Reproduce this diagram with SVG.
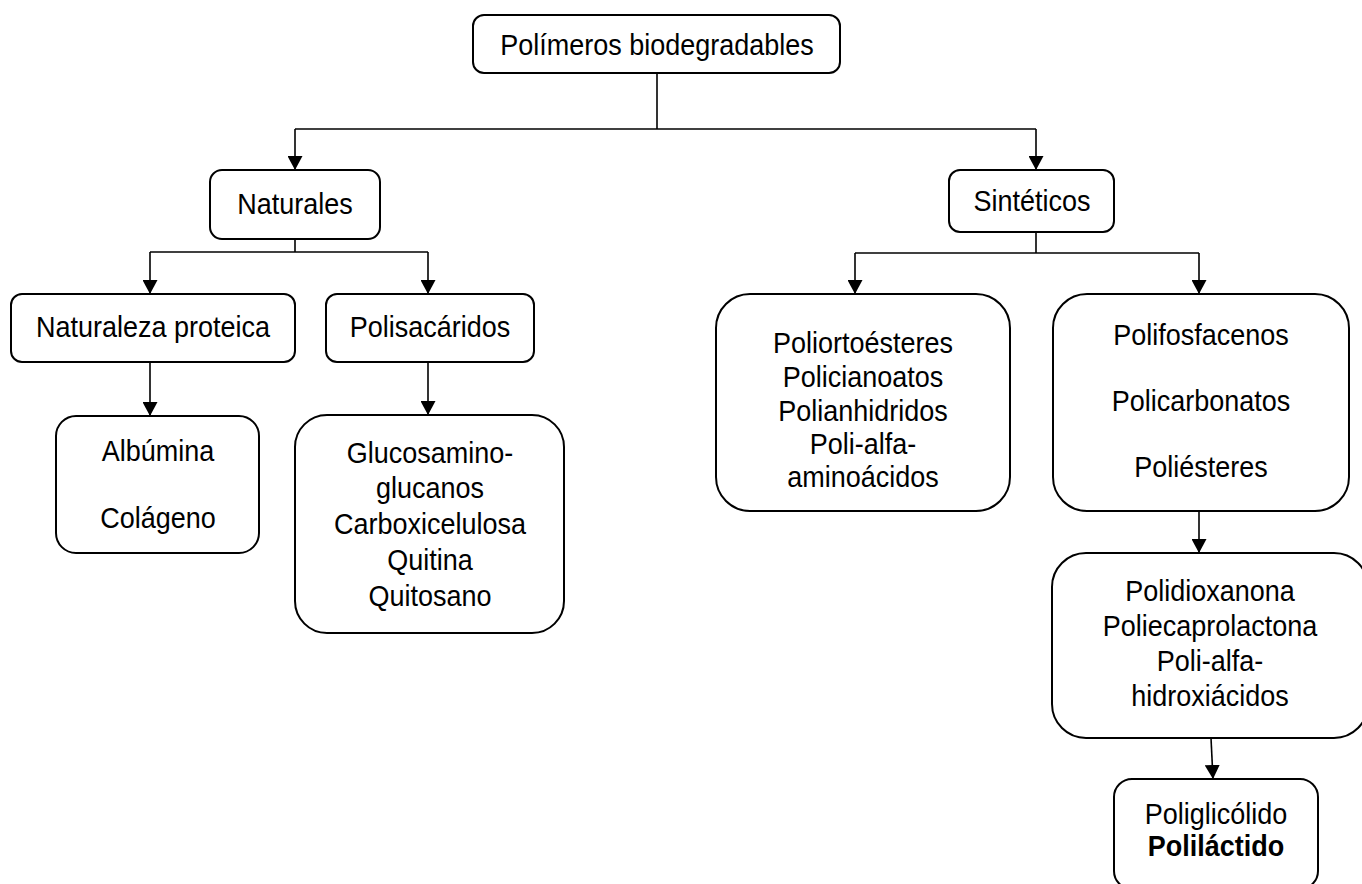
<svg xmlns="http://www.w3.org/2000/svg" width="1362" height="884" viewBox="0 0 1362 884">
<style>
.box{fill:#fff;stroke:#000;stroke-width:2}
.t{font-family:"Liberation Sans",Arial,sans-serif;font-size:30px;fill:#000;text-anchor:middle}
.b{font-weight:bold}
.c{fill:none;stroke:#000;stroke-width:1.6}
.a{marker-end:url(#ah)}
</style>
<defs>
<marker id="ah" viewBox="0 0 14 15" markerUnits="userSpaceOnUse" markerWidth="14" markerHeight="15" refX="14" refY="7.5" orient="auto">
<path d="M0,0 L14,7.5 L0,15 z" fill="#000"/>
</marker>
</defs>
<rect width="1362" height="884" fill="#fff"/>
<g id="connectors">
<line class="c" x1="657" y1="73" x2="657" y2="129"/>
<line class="c" x1="295" y1="129" x2="1036" y2="129"/>
<line class="c a" x1="295" y1="129" x2="295" y2="170"/>
<line class="c a" x1="1036" y1="129" x2="1036" y2="170"/>
<line class="c" x1="295" y1="239" x2="295" y2="252"/>
<line class="c" x1="150" y1="252" x2="428" y2="252"/>
<line class="c a" x1="150" y1="252" x2="150" y2="294"/>
<line class="c a" x1="428" y1="252" x2="428" y2="294"/>
<line class="c a" x1="150" y1="362" x2="150" y2="416"/>
<line class="c a" x1="428" y1="362" x2="428" y2="415"/>
<line class="c" x1="1036" y1="232" x2="1036" y2="253"/>
<line class="c" x1="855" y1="253" x2="1199" y2="253"/>
<line class="c a" x1="855" y1="253" x2="855" y2="294"/>
<line class="c a" x1="1199" y1="253" x2="1199" y2="294"/>
<line class="c a" x1="1199" y1="511" x2="1199" y2="553"/>
<line class="c a" x1="1211" y1="738" x2="1213" y2="779"/>
</g>
<g id="n-root">
<rect class="box" x="473" y="15" width="367" height="58" rx="11"/>
<text class="t" transform="translate(657,55) scale(0.9,1)">Polímeros biodegradables</text>
</g>
<g id="n-naturales">
<rect class="box" x="210" y="170" width="170" height="69" rx="12"/>
<text class="t" transform="translate(295,214) scale(0.9,1)">Naturales</text>
</g>
<g id="n-sinteticos">
<rect class="box" x="949" y="170" width="165" height="62" rx="11"/>
<text class="t" transform="translate(1032,211) scale(0.9,1)">Sintéticos</text>
</g>
<g id="n-proteica">
<rect class="box" x="11" y="294" width="284" height="68" rx="11"/>
<text class="t" transform="translate(153,337) scale(0.9,1)">Naturaleza proteica</text>
</g>
<g id="n-polisacaridos">
<rect class="box" x="326" y="294" width="208" height="68" rx="11"/>
<text class="t" transform="translate(430,337) scale(0.9,1)">Polisacáridos</text>
</g>
<g id="n-albumina">
<rect class="box" x="56" y="416" width="203" height="137" rx="20"/>
<text class="t" transform="translate(158,461) scale(0.9,1)">Albúmina</text>
<text class="t" transform="translate(158,528) scale(0.9,1)">Colágeno</text>
</g>
<g id="n-glucosamino">
<rect class="box" x="295" y="415" width="269" height="218" rx="32"/>
<text class="t" transform="translate(430,463) scale(0.9,1)">Glucosamino-</text>
<text class="t" transform="translate(430,498) scale(0.9,1)">glucanos</text>
<text class="t" transform="translate(430,534) scale(0.9,1)">Carboxicelulosa</text>
<text class="t" transform="translate(430,570) scale(0.9,1)">Quitina</text>
<text class="t" transform="translate(430,606) scale(0.9,1)">Quitosano</text>
</g>
<g id="n-poliortoesteres">
<rect class="box" x="716" y="294" width="294" height="217" rx="34"/>
<text class="t" transform="translate(863,353) scale(0.9,1)">Poliortoésteres</text>
<text class="t" transform="translate(863,387) scale(0.9,1)">Policianoatos</text>
<text class="t" transform="translate(863,421) scale(0.9,1)">Polianhidridos</text>
<text class="t" transform="translate(863,454) scale(0.9,1)">Poli-alfa-</text>
<text class="t" transform="translate(863,487) scale(0.9,1)">aminoácidos</text>
</g>
<g id="n-polifosfacenos">
<rect class="box" x="1053" y="294" width="296" height="217" rx="34"/>
<text class="t" transform="translate(1201,345) scale(0.9,1)">Polifosfacenos</text>
<text class="t" transform="translate(1201,411) scale(0.9,1)">Policarbonatos</text>
<text class="t" transform="translate(1201,477) scale(0.9,1)">Poliésteres</text>
</g>
<g id="n-polidioxanona">
<rect class="box" x="1052" y="553" width="316" height="185" rx="34"/>
<text class="t" transform="translate(1210,601) scale(0.9,1)">Polidioxanona</text>
<text class="t" transform="translate(1210,636) scale(0.9,1)">Poliecaprolactona</text>
<text class="t" transform="translate(1210,671) scale(0.9,1)">Poli-alfa-</text>
<text class="t" transform="translate(1210,706) scale(0.9,1)">hidroxiácidos</text>
</g>
<g id="n-poliglicolido">
<rect class="box" x="1114" y="779" width="204" height="110" rx="18"/>
<text class="t" transform="translate(1216,824) scale(0.9,1)">Poliglicólido</text>
<text class="t b" transform="translate(1216,856) scale(0.9,1)">Poliláctido</text>
</g>
</svg>
